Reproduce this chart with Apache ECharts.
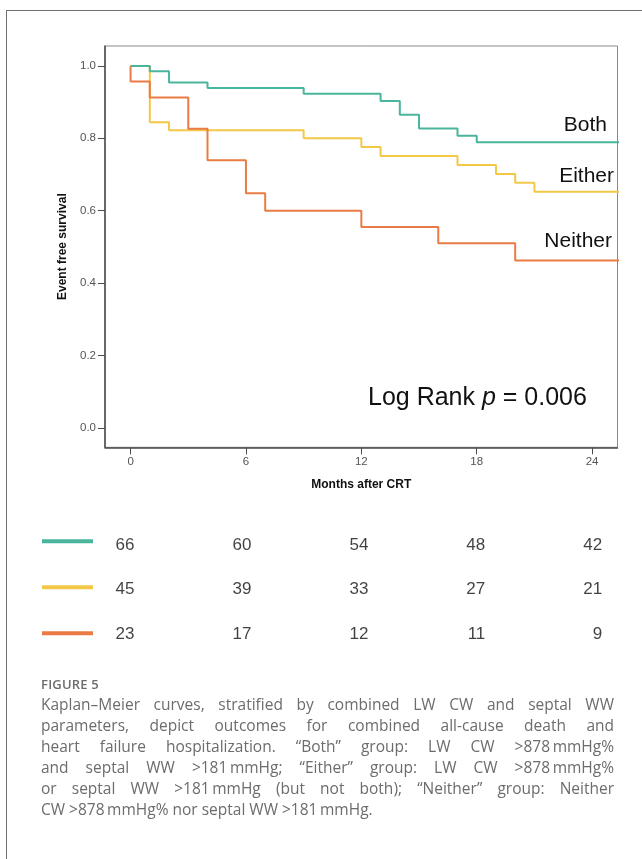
<!DOCTYPE html>
<html><head><meta charset="utf-8">
<script src="https://cdn.jsdelivr.net/npm/echarts@6/dist/echarts.min.js"></script>
<style>
html,body{margin:0;padding:0;background:#fff;}
#wrap{position:relative;width:642px;height:859px;overflow:hidden;background:#fff;}
#frame{position:absolute;left:6px;top:10px;width:700px;height:900px;border-left:1px solid #707070;border-top:1px solid #707070;}
#chart{position:absolute;left:0;top:0;width:642px;height:859px;}
#cap{position:absolute;left:41px;top:674px;width:573px;font-family:'Open Sans',sans-serif;color:#6c6c6c;}
#cap .fig{font-size:13px;font-weight:600;line-height:20px;letter-spacing:0.2px;}
#cap .ln{font-size:15.5px;line-height:21px;text-align:justify;text-align-last:justify;white-space:nowrap;}
#cap .ln.last{text-align-last:left;}
</style></head>
<body>
<div id="wrap">
<div id="frame"></div>
<div id="chart"></div>
<div id="cap">
<div class="fig">FIGURE 5</div>
<div class="ln">Kaplan–Meier curves, stratified by combined LW CW and septal WW</div>
<div class="ln">parameters, depict outcomes for combined all-cause death and</div>
<div class="ln">heart failure hospitalization. “Both” group: LW CW >878&#8201;mmHg%</div>
<div class="ln">and septal WW >181&#8201;mmHg; “Either” group: LW CW >878&#8201;mmHg%</div>
<div class="ln">or septal WW >181&#8201;mmHg (but not both); “Neither” group: Neither</div>
<div class="ln last">CW >878&#8201;mmHg% nor septal WW >181&#8201;mmHg.</div>
</div>
</div>
<script>
// Kaplan-Meier step data (months, survival)
const groups = ['Both', 'Either', 'Neither'];
const bothTimes = [0, 1, 2, 4, 9, 13, 14, 15, 17, 18, 26];
const bothSurv  = [1.0, 0.985, 0.954, 0.939, 0.923, 0.903, 0.865, 0.827, 0.807, 0.789, 0.789];
const eitherTimes = [0, 1, 2, 9, 12, 13, 17, 19, 20, 21, 26];
const eitherSurv  = [1.0, 0.844, 0.822, 0.800, 0.776, 0.751, 0.726, 0.701, 0.677, 0.652, 0.652];
const neitherTimes = [0, 0, 1, 3, 4, 6, 7, 12, 16, 20, 26];
const neitherSurv  = [1.0, 0.957, 0.913, 0.826, 0.739, 0.648, 0.600, 0.555, 0.510, 0.462, 0.462];
// Number at risk
const riskTimes = [0, 6, 12, 18, 24];
const riskBoth = [66, 60, 54, 48, 42];
const riskEither = [45, 39, 33, 27, 21];
const riskNeither = [23, 17, 12, 11, 9];
// Tick values
const xTicks = [0, 6, 12, 18, 24];
const yTicks = [0, 0.2, 0.4, 0.6, 0.8, 1.0];

const colors = {Both: '#48b59c', Either: '#f4c847', Neither: '#ea7b44'};
const zip = (t, s) => t.map((v, i) => [v, s[i]]);
const FONT = 'Liberation Sans, Arial, sans-serif';

const chart = echarts.init(document.getElementById('chart'), null, {renderer: 'canvas'});

function kmSeries(name, t, s, z) {
  return {
    name, type: 'line', step: 'end', data: zip(t, s), showSymbol: false, symbol: 'none',
    color: colors[name], lineStyle: {width: 2, color: colors[name]}, z,
    xAxisIndex: 0, yAxisIndex: 0, clip: true, silent: true
  };
}
function riskSeries(name, vals) {
  return {
    name: name + ' at risk', type: 'scatter', xAxisIndex: 1, yAxisIndex: 1,
    data: riskTimes.map((t, i) => [t, name, vals[i]]),
    symbol: 'circle', symbolSize: 1, itemStyle: {color: 'rgba(0,0,0,0)'}, silent: true,
    label: {show: true, position: 'left', distance: 0, formatter: p => String(p.value[2]),
      fontFamily: FONT, fontSize: 17, color: '#111'}
  };
}

chart.setOption({
  animation: false,
  backgroundColor: 'transparent',
  grid: [
    {left: 105, top: 46, width: 512.5, height: 401.3, show: true, borderColor: '#8a8a8a', borderWidth: 1, backgroundColor: 'transparent'},
    {left: 135, top: 522.7, width: 467.7, height: 134}
  ],
  xAxis: [
    {type: 'value', gridIndex: 0, min: -1.33, max: 25.32,
     name: 'Months after CRT', nameLocation: 'middle', nameGap: 31,
     nameTextStyle: {fontFamily: FONT, fontSize: 12, fontWeight: 'bold', color: '#111'},
     axisLine: {show: true, onZero: false, lineStyle: {color: '#4a4a4a', width: 1.5}},
     axisTick: {show: true, inside: false, length: 7, customValues: xTicks, lineStyle: {color: '#4a4a4a', width: 1}},
     axisLabel: {show: true, customValues: xTicks, margin: 9, fontFamily: FONT, fontSize: 11.5, color: '#555'},
     splitLine: {show: false}},
    {type: 'value', gridIndex: 1, min: 0, max: 24, show: false}
  ],
  yAxis: [
    {type: 'value', gridIndex: 0, min: -0.054, max: 1.055,
     name: 'Event free survival', nameLocation: 'middle', nameGap: 31,
     nameTextStyle: {fontFamily: FONT, fontSize: 12, fontWeight: 'bold', color: '#111'},
     axisLine: {show: true, onZero: false, lineStyle: {color: '#4a4a4a', width: 1.5}},
     axisTick: {show: true, inside: false, length: 7, customValues: yTicks, lineStyle: {color: '#4a4a4a', width: 1}},
     axisLabel: {show: true, customValues: yTicks, margin: 9, fontFamily: FONT, fontSize: 11.5, color: '#555',
       formatter: v => Number(v).toFixed(1)},
     splitLine: {show: false}},
    {type: 'category', gridIndex: 1, inverse: true, data: groups, show: false}
  ],
  legend: {
    data: groups, orient: 'vertical', left: 42, top: 539.3, itemWidth: 51, itemHeight: 4, itemGap: 42,
    icon: 'rect', selectedMode: false, formatter: () => '', textStyle: {fontSize: 1, lineHeight: 1}, padding: 0
  },
  graphic: [
    {type: 'text', x: 607, y: 125, silent: true,
     style: {text: 'Both', fontFamily: FONT, fontSize: 21, fill: '#111', align: 'right', verticalAlign: 'middle'}},
    {type: 'text', x: 614, y: 176, silent: true,
     style: {text: 'Either', fontFamily: FONT, fontSize: 21, fill: '#111', align: 'right', verticalAlign: 'middle'}},
    {type: 'text', x: 612, y: 241, silent: true,
     style: {text: 'Neither', fontFamily: FONT, fontSize: 21, fill: '#111', align: 'right', verticalAlign: 'middle'}},
    {type: 'text', x: 368, y: 398, silent: true,
     style: {text: '{a|Log Rank }{b|p}{a| = 0.006}', verticalAlign: 'middle', align: 'left',
       rich: {a: {fontFamily: FONT, fontSize: 25, fill: '#111', color: '#111'},
              b: {fontFamily: FONT, fontSize: 25, fontStyle: 'italic', fill: '#111', color: '#111'}}}}
  ],
  series: [
    kmSeries('Either', eitherTimes, eitherSurv, 2),
    kmSeries('Both', bothTimes, bothSurv, 3),
    kmSeries('Neither', neitherTimes, neitherSurv, 4),
    riskSeries('Both', riskBoth),
    riskSeries('Either', riskEither),
    riskSeries('Neither', riskNeither)
  ]
});
</script>
</body></html>
